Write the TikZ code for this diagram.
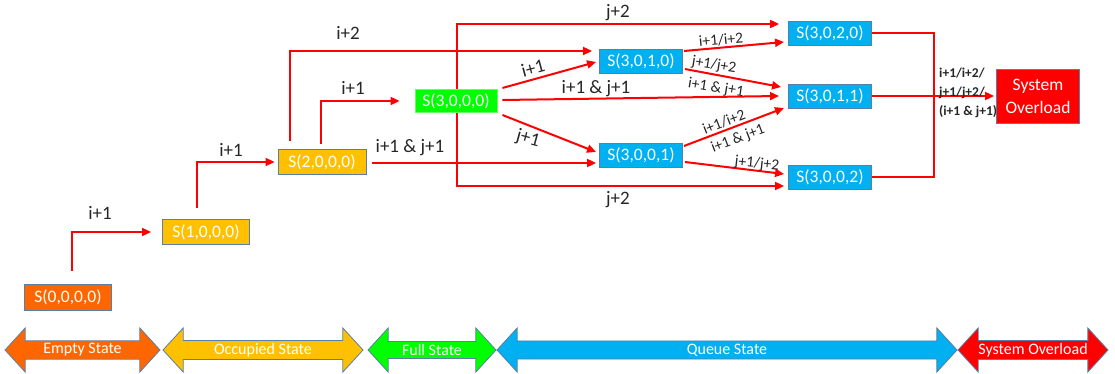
\documentclass[tikz,border=0pt]{standalone}
\usepackage{fontspec}
\setmainfont{Carlito}
\usetikzlibrary{arrows.meta,shapes.arrows,backgrounds}
\definecolor{cOrange}{HTML}{FF6600}
\definecolor{cGold}{HTML}{FFC000}
\definecolor{cGreen}{HTML}{00FF00}
\definecolor{cBlue}{HTML}{00B0F0}
\definecolor{cRed}{HTML}{FF0000}
\definecolor{cEdge}{HTML}{5A7EA6}
\definecolor{cText}{HTML}{262626}
\tikzset{
  statebox/.style={draw=cEdge, line width=0.9pt, text=white, inner sep=0pt,
    font=\fontsize{17.5}{20}\selectfont, minimum width=83pt, minimum height=24pt},
  conn/.style={draw=cRed, line width=2pt, -{Triangle[length=9pt,width=8pt]}},
  link/.style={draw=cRed, line width=2pt},
  biglbl/.style={text=cText, inner sep=0pt, font=\fontsize{19}{21}\selectfont},
  smalllbl/.style={text=cText, inner sep=0pt, font=\fontsize{15.5}{17}\selectfont},
  phase/.style={shape=double arrow, double arrow head extend=9.5pt,
    double arrow tip angle=95, minimum width=44pt, inner sep=0pt,
    draw=cEdge, line width=0.8pt, text=white, font=\fontsize{16}{18}\selectfont}
}
\begin{document}
\begin{tikzpicture}[x=1pt,y=-1pt]
\useasboundingbox (0,0) rectangle (1115,374);

% states
\node[statebox, fill=cOrange, minimum width=87pt, minimum height=26pt] (S0) at (68,297) {S(0,0,0,0)};
\node[statebox, fill=cGold, minimum width=87pt, minimum height=25pt] (S1) at (206,232) {S(1,0,0,0)};
\node[statebox, fill=cGold, minimum width=88pt, minimum height=25pt] (S2) at (322,162) {S(2,0,0,0)};
\node[statebox, fill=cGreen, draw=cGreen!60!white, minimum width=82pt, minimum height=23pt] (S3) at (456,101) {S(3,0,0,0)};
\node[statebox, fill=cBlue] (S310) at (641,61) {S(3,0,1,0)};
\node[statebox, fill=cBlue] (S301) at (641,155) {S(3,0,0,1)};
\node[statebox, fill=cBlue] (S320) at (830,33) {S(3,0,2,0)};
\node[statebox, fill=cBlue] (S311) at (830,96) {S(3,0,1,1)};
\node[statebox, fill=cBlue] (S302) at (830,177) {S(3,0,0,2)};
\node[statebox, fill=cRed, minimum width=83pt, minimum height=54pt, align=center,
  font=\fontsize{17.5}{23}\selectfont] (SO) at (1038,96) {System\\Overload};

% j+2 branches run behind the full state
\begin{scope}[on background layer]
  \draw[conn] ([xshift=1pt]S3.center) |- ([shift={(-9,-9)}]S320.west);
  \draw[conn] ([xshift=1pt]S3.center) |- ([shift={(-4,9)}]S302.west);
\end{scope}

% filling up
\draw[conn] ([shift={(4,-13)}]S0.north) |- ([xshift=-11pt]S1.west);
\draw[conn] ([shift={(-9,-11)}]S1.north) |- ([xshift=-3pt]S2.west);
\draw[conn] ([shift={(-1,-5)}]S2.north) |- ([xshift=-15pt]S3.west);
\draw[conn] ([shift={(-32,-8)}]S2.north) |- ([shift={(-7,-10)}]S310.west);
\draw[conn] ([shift={(6,1)}]S2.east) -- ([shift={(-3,8)}]S301.west);

% queue transitions
\draw[conn] ([shift={(5,-13)}]S3.east) -- ([shift={(-3,1)}]S310.west);
\draw[conn] ([shift={(5,-1)}]S3.east) -- ([shift={(-9,0)}]S311.west);
\draw[conn] ([shift={(5,14)}]S3.east) -- ([shift={(-3,-3)}]S301.west);
\draw[conn] ([shift={(1,-10)}]S310.east) -- ([shift={(-4,9)}]S320.west);
\draw[conn] ([shift={(2,8)}]S310.east) -- ([shift={(-7,-9)}]S311.west);
\draw[conn] ([shift={(1,-9)}]S301.east) -- ([shift={(-4,12)}]S311.west);
\draw[conn] ([shift={(2,7)}]S301.east) -- ([shift={(-4,-3)}]S302.west);

% overload collector
\coordinate (bus) at (934,100);
\draw[link] (S320.east) -| (bus) |- (S302.east);
\draw[conn] (S311.east) -- ([xshift=-2pt]SO.west);

% transition labels
\node[biglbl] (l1) at (100,213) {i+1};
\node[biglbl] (l2) at (231,150) {i+1};
\node[biglbl] (l3) at (353,88) {i+1};
\node[biglbl] (l4) at (348,33) {i+2};
\node[biglbl] (l5) at (410,148) {i+1 \& j+1};
\node[biglbl] (l6) at (618,13) {j+2};
\node[biglbl] (l7) at (618,200) {j+2};
\node[biglbl, rotate=15] (l8) at (533,68) {i+1};
\node[biglbl] (l9) at (596,89) {i+1 \& j+1};
\node[biglbl, rotate=-15] (l10) at (528,139) {j+1};
\node[smalllbl, rotate=5] (l11) at (721,40) {i+1/i+2};
\node[smalllbl, rotate=-9] (l12) at (714,65) {j+1/j+2};
\node[smalllbl, rotate=-9] (l13) at (716,88) {i+1 \& j+1};
\node[smalllbl, rotate=21] (l14) at (724,122) {i+1/i+2};
\node[smalllbl, rotate=21] (l15) at (738,139) {i+1 \& j+1};
\node[smalllbl, rotate=-6] (l16) at (757,164) {j+1/j+2};
\node[text=cText, inner sep=0pt, align=left, anchor=west,
  font=\bfseries\fontsize{13.5}{19}\selectfont] (l17) at (939,93)
  {i+1/i+2/\\j+1/j+2/\\(i+1 \& j+1)};

% phases
\node[phase, fill=cOrange, minimum height=155pt] (p1) at (82.5,350) {Empty State};
\node[phase, fill=cGold, minimum height=200pt] (p2) at (263,350) {Occupied State};
\node[phase, fill=cGreen, minimum height=128pt] (p3) at (432,350) {Full State};
\node[phase, fill=cBlue, minimum height=460pt] (p4) at (727,350) {Queue State};
\node[phase, fill=cRed, minimum height=150pt] (p5) at (1033,350) {System Overload};
\end{tikzpicture}
\end{document}
